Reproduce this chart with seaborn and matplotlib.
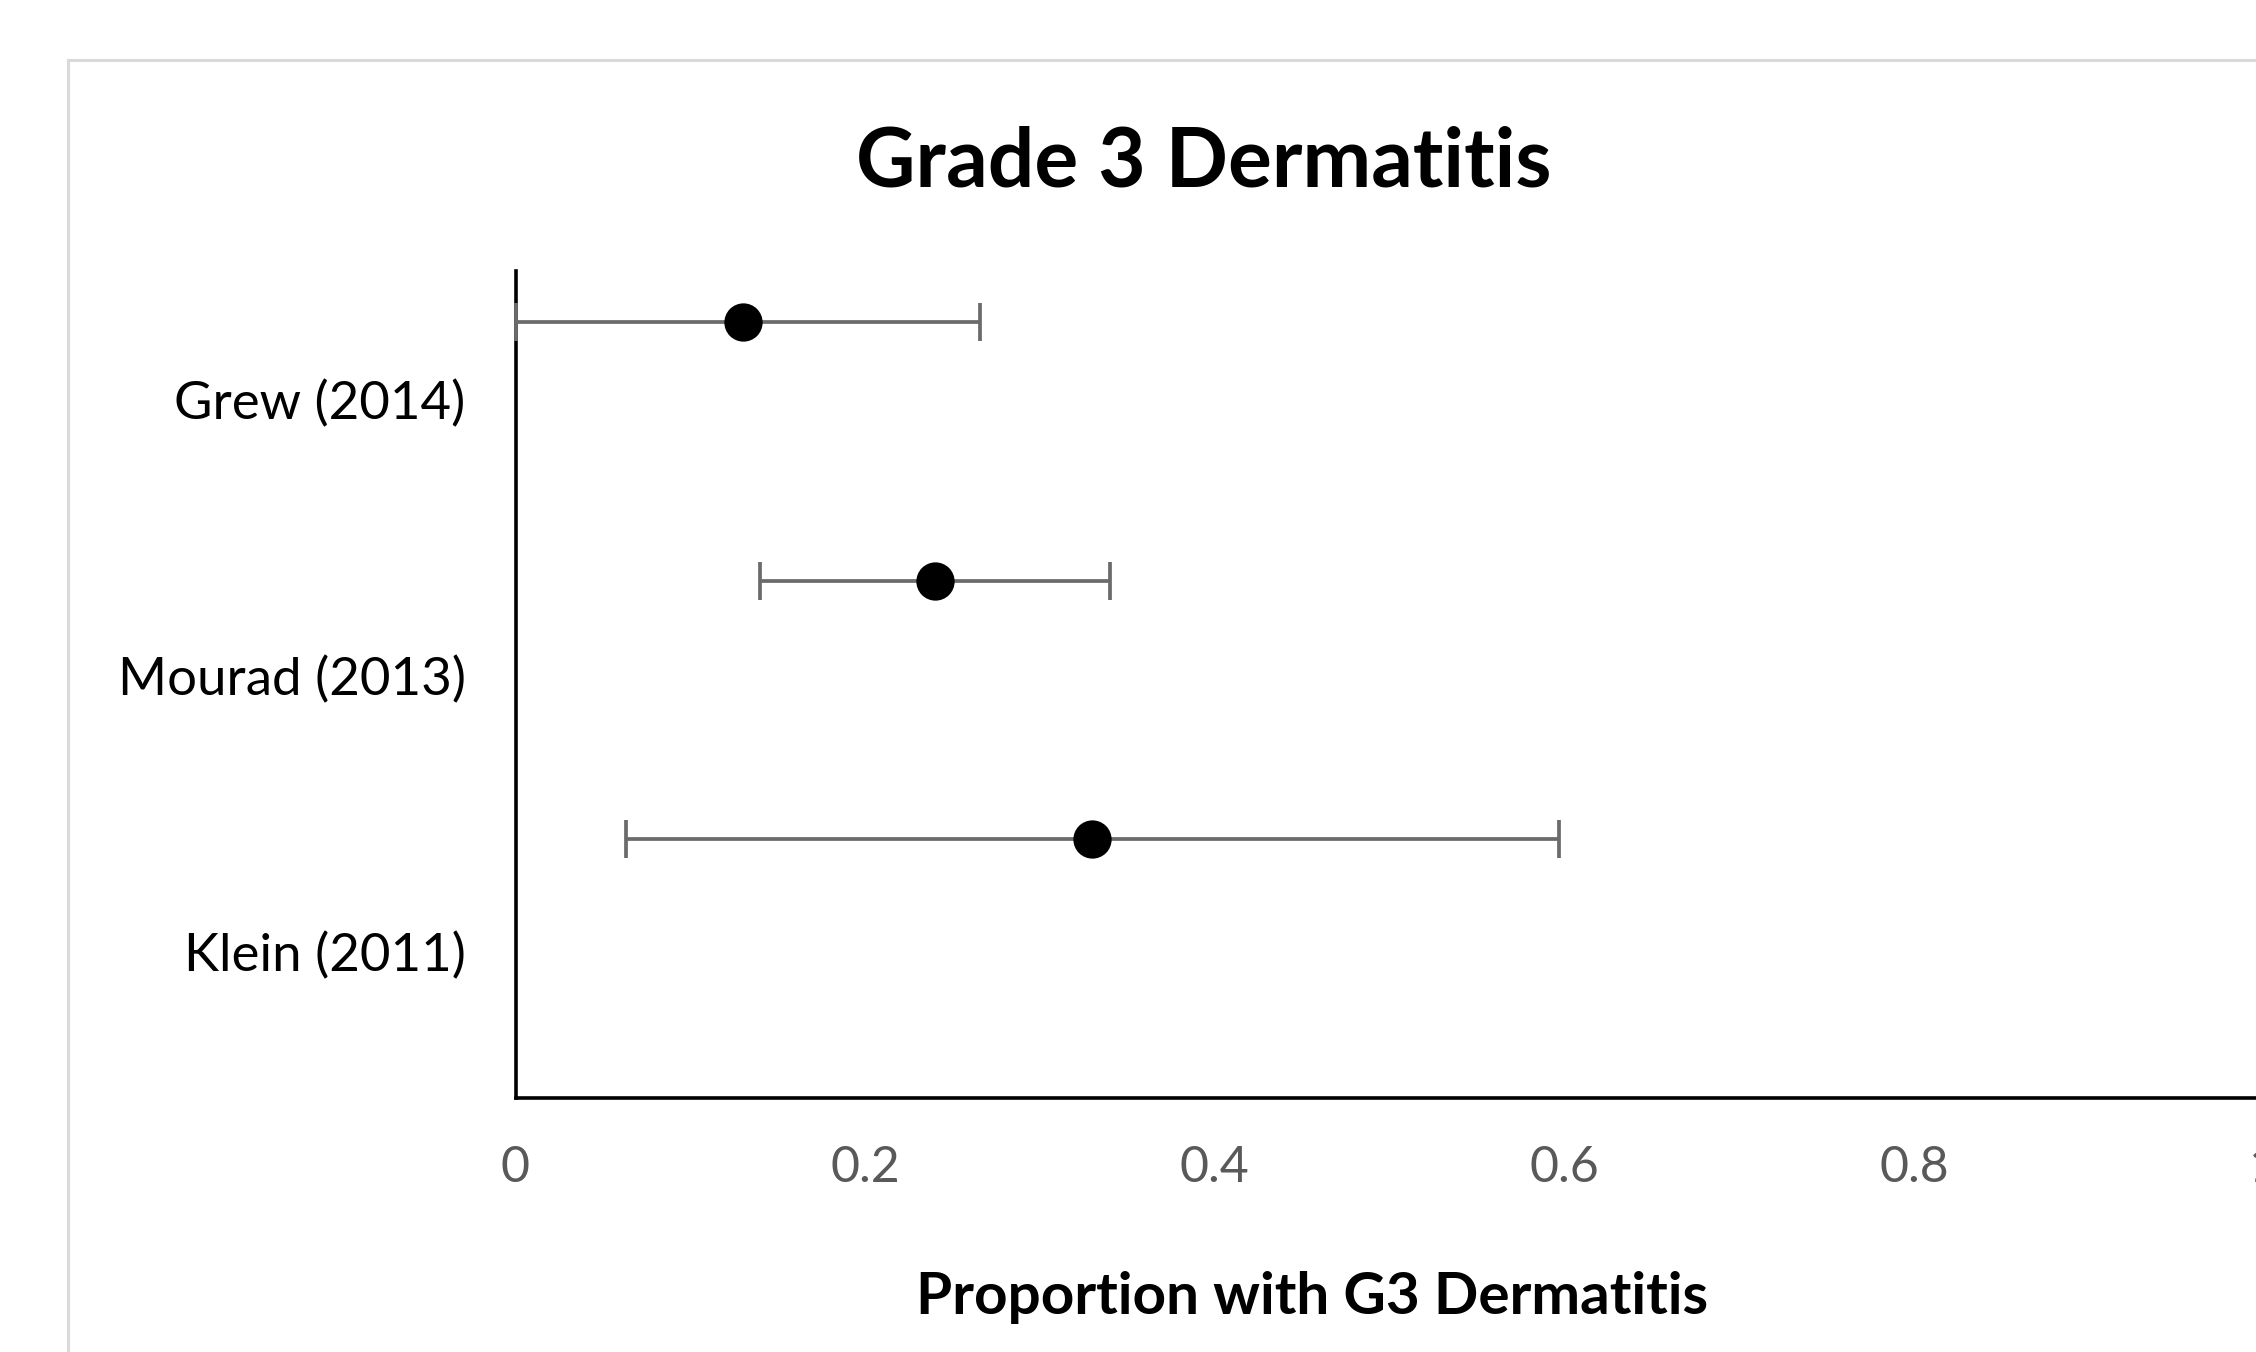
import matplotlib
matplotlib.use("Agg")
import matplotlib.pyplot as plt
import matplotlib.patches as mpatches
import matplotlib.transforms as mtransforms
import seaborn as sns
import pandas as pd

# ---- data ----
studies = ["Grew (2014)", "Mourad (2013)", "Klein (2011)"]
proportion = [0.13, 0.24, 0.33]
ci_low = [0.0, 0.14, 0.063]
ci_high = [0.266, 0.34, 0.597]
row_index = [3, 2, 1]          # scatter y value for each study (Excel-style secondary axis)
x_ticks = [0, 0.2, 0.4, 0.6, 0.8, 1.0]
x_tick_labels = ["0", "0.2", "0.4", "0.6", "0.8", "1"]
title = "Grade 3 Dermatitis"
x_label = "Proportion with G3 Dermatitis"

df = pd.DataFrame({"study": studies, "p": proportion, "lo": ci_low,
                   "hi": ci_high, "row": row_index})

sns.set_theme(style="white")
plt.rcParams["font.family"] = ["Lato", "DejaVu Sans"]

W, H = 2256, 1352
fig = plt.figure(figsize=(W / 100, H / 100), dpi=100)
fig.patch.set_facecolor("white")

# outer chart-area frame (cropped on right and bottom)
frame = mpatches.Rectangle((68 / W, -0.05), 1.2, 1 - 60 / H + 0.05,
                           transform=fig.transFigure, fill=False,
                           edgecolor="#d9d9d9", linewidth=2.2, zorder=0)
fig.patches.append(frame)

left = 515.5 / W
bottom = (H - 1098) / H
top = (H - 270.5) / H
width = 1748 / W
ax = fig.add_axes([left, bottom, width, top - bottom])

# category axis: three bands
ax.set_ylim(0, 3)
ax.set_yticks([2.5, 1.5, 0.5])
ax.set_yticklabels(studies)
ax.set_xlim(0, 1.0)
ax.set_xticks(x_ticks)
ax.set_xticklabels(x_tick_labels)
ax.tick_params(axis="y", length=0, pad=36, labelsize=38, labelcolor="black")
ax.tick_params(axis="x", length=0, pad=34, labelsize=36, labelcolor="#595959")
shift = mtransforms.ScaledTranslation(0, 6 / 72, fig.dpi_scale_trans)
for lab in ax.get_yticklabels():
    lab.set_transform(lab.get_transform() + shift)
for s in ["top", "right"]:
    ax.spines[s].set_visible(False)
for s in ["left", "bottom"]:
    ax.spines[s].set_color("black")
    ax.spines[s].set_linewidth(2.6)
ax.set_facecolor("none")

# value axis for points
ax2 = ax.twinx()
ax2.set_ylim(0, 3.2)
ax2.set_axis_off()
ax2.errorbar(df["p"], df["row"],
             xerr=[df["p"] - df["lo"], df["hi"] - df["p"]],
             fmt="none", ecolor="#6b6b6b", elinewidth=2.7,
             capsize=14, capthick=2.7, zorder=2, clip_on=False)
sns.scatterplot(data=df, x="p", y="row", ax=ax2, color="black", s=760,
                edgecolor="black", linewidth=0, zorder=3, clip_on=False,
                legend=False)
ax2.set_xlim(0, 1.0)

fig.text(1204 / W, 1 - 163 / H, title, ha="center", va="center",
         fontsize=59, fontweight="bold", color="black")
fig.text(1312 / W, 1 - 1297 / H, x_label, ha="center", va="center",
         fontsize=42, fontweight="bold", color="black")

fig.savefig("out.png", dpi=100, facecolor="white")
